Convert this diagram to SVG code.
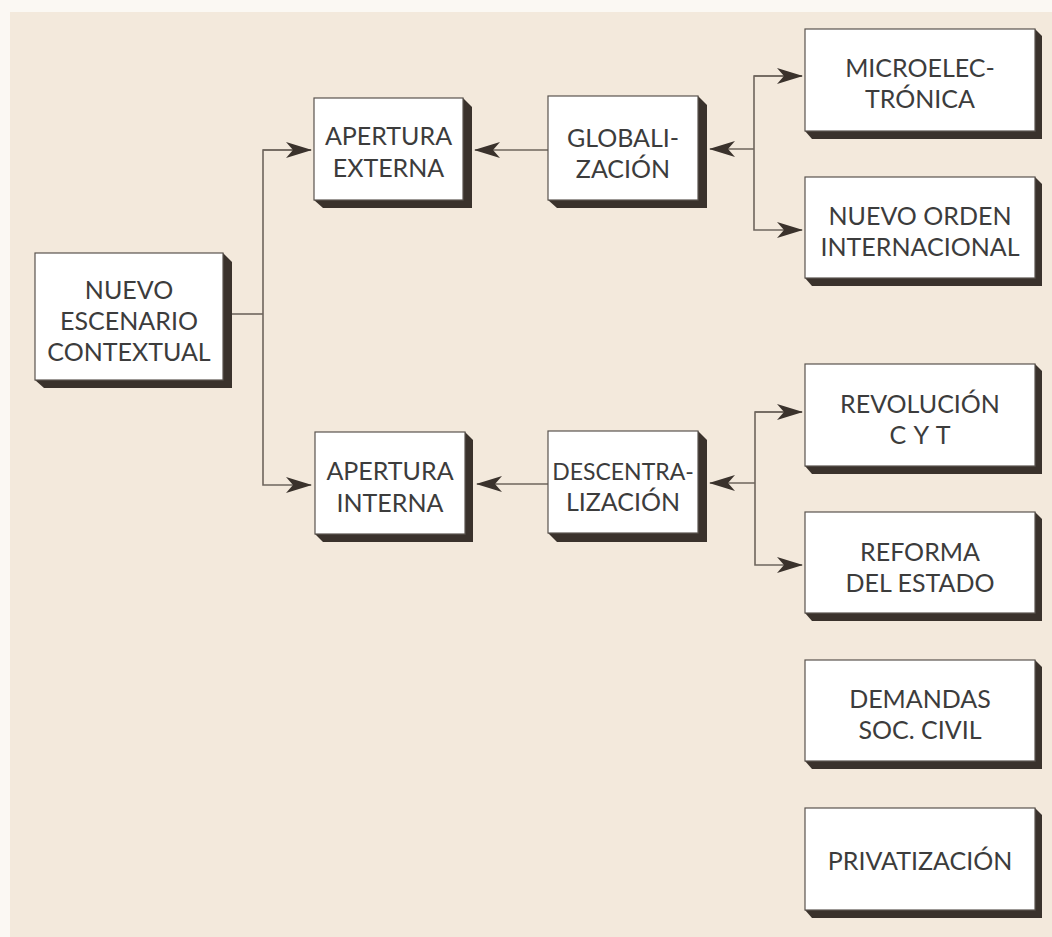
<svg xmlns="http://www.w3.org/2000/svg" width="1052" height="937" viewBox="0 0 1052 937">
  <defs>
    <style>
      .bg { fill: #f3e9dc; }
      .shadow { fill: #3a322c; }
      .box { fill: #ffffff; stroke: #5a544f; stroke-width: 1.2; }
      .lbl { font-family: "Lato", "Open Sans", sans-serif; font-size: 25px; fill: #3c3c3c; text-anchor: middle; }
      .conn { fill: none; stroke: #6e655d; stroke-width: 1.6; }
    </style>
    <marker id="arr" viewBox="0 0 26 16" refX="25" refY="8" markerWidth="26" markerHeight="16" markerUnits="userSpaceOnUse" orient="auto">
      <path d="M0,0 L26,8 L0,16 L7,8 z" fill="#3a322c"/>
    </marker>
  </defs>

  <rect x="0" y="0" width="1052" height="937" fill="#fbf8f3"/>
  <rect class="bg" x="10" y="12" width="1042" height="925"/>

  <g id="connectors">
    <polyline class="conn" points="232,314 263,314"/>
    <polyline class="conn" points="311,150 263,150 263,485 311,485" marker-end="url(#arr)"/>
    <line class="conn" x1="263" y1="150" x2="311" y2="150" marker-end="url(#arr)"/>
    <line class="conn" x1="548" y1="150" x2="475" y2="150" marker-end="url(#arr)"/>
    <line class="conn" x1="548" y1="484" x2="477" y2="484" marker-end="url(#arr)"/>
    <polyline class="conn" points="802,76 754,76 754,230 802,230" marker-end="url(#arr)"/>
    <line class="conn" x1="754" y1="76" x2="802" y2="76" marker-end="url(#arr)"/>
    <line class="conn" x1="754" y1="149" x2="710" y2="149" marker-end="url(#arr)"/>
    <polyline class="conn" points="802,412 755,412 755,565 802,565" marker-end="url(#arr)"/>
    <line class="conn" x1="755" y1="412" x2="802" y2="412" marker-end="url(#arr)"/>
    <line class="conn" x1="755" y1="483" x2="710" y2="483" marker-end="url(#arr)"/>
  </g>

  <g id="nuevo-escenario">
    <polygon class="shadow" points="223,253 232,262 232,388 44,388 35,380"/>
    <rect class="box" x="35" y="253" width="188" height="127"/>
    <text class="lbl" x="129" y="299">NUEVO</text>
    <text class="lbl" x="129" y="330">ESCENARIO</text>
    <text class="lbl" x="129" y="361">CONTEXTUAL</text>
  </g>

  <g id="apertura-externa">
    <polygon class="shadow" points="463,98 472,107 472,208 323,208 314,200"/>
    <rect class="box" x="314" y="98" width="149" height="102"/>
    <text class="lbl" x="388.5" y="145">APERTURA</text>
    <text class="lbl" x="388.5" y="177">EXTERNA</text>
  </g>

  <g id="globalizacion">
    <polygon class="shadow" points="698,96 707,105 707,208 557,208 548,200"/>
    <rect class="box" x="548" y="96" width="150" height="104"/>
    <text class="lbl" x="623" y="147">GLOBALI-</text>
    <text class="lbl" x="623" y="178">ZACIÓN</text>
  </g>

  <g id="microelectronica">
    <polygon class="shadow" points="1035,29 1042,36 1042,139 812,139 805,131"/>
    <rect class="box" x="805" y="29" width="230" height="102"/>
    <text class="lbl" x="920" y="77">MICROELEC-</text>
    <text class="lbl" x="920" y="108">TRÓNICA</text>
  </g>

  <g id="nuevo-orden">
    <polygon class="shadow" points="1035,177 1042,184 1042,286 812,286 805,278"/>
    <rect class="box" x="805" y="177" width="230" height="101"/>
    <text class="lbl" x="920" y="225">NUEVO ORDEN</text>
    <text class="lbl" x="920" y="256">INTERNACIONAL</text>
  </g>

  <g id="apertura-interna">
    <polygon class="shadow" points="465,432 473,440 473,542 323,542 315,534"/>
    <rect class="box" x="315" y="432" width="150" height="102"/>
    <text class="lbl" x="390" y="480">APERTURA</text>
    <text class="lbl" x="390" y="512">INTERNA</text>
  </g>

  <g id="descentralizacion">
    <polygon class="shadow" points="698,431 707,440 707,542 557,542 548,533"/>
    <rect class="box" x="548" y="431" width="150" height="102"/>
    <text class="lbl" x="623" y="480" style="font-size:23px">DESCENTRA-</text>
    <text class="lbl" x="623" y="511">LIZACIÓN</text>
  </g>

  <g id="revolucion-cyt">
    <polygon class="shadow" points="1035,364 1042,371 1042,474 812,474 805,466"/>
    <rect class="box" x="805" y="364" width="230" height="102"/>
    <text class="lbl" x="920" y="413">REVOLUCIÓN</text>
    <text class="lbl" x="920.5" y="444" letter-spacing="1">C Y T</text>
  </g>

  <g id="reforma-estado">
    <polygon class="shadow" points="1035,512 1042,519 1042,621 812,621 805,613"/>
    <rect class="box" x="805" y="512" width="230" height="101"/>
    <text class="lbl" x="920" y="561">REFORMA</text>
    <text class="lbl" x="920" y="592">DEL ESTADO</text>
  </g>

  <g id="demandas-soc-civil">
    <polygon class="shadow" points="1035,660 1042,667 1042,769 812,769 805,761"/>
    <rect class="box" x="805" y="660" width="230" height="101"/>
    <text class="lbl" x="920" y="708">DEMANDAS</text>
    <text class="lbl" x="920" y="739">SOC. CIVIL</text>
  </g>

  <g id="privatizacion">
    <polygon class="shadow" points="1035,808 1042,815 1042,918 812,918 805,910"/>
    <rect class="box" x="805" y="808" width="230" height="102"/>
    <text class="lbl" x="920" y="870">PRIVATIZACIÓN</text>
  </g>
</svg>
